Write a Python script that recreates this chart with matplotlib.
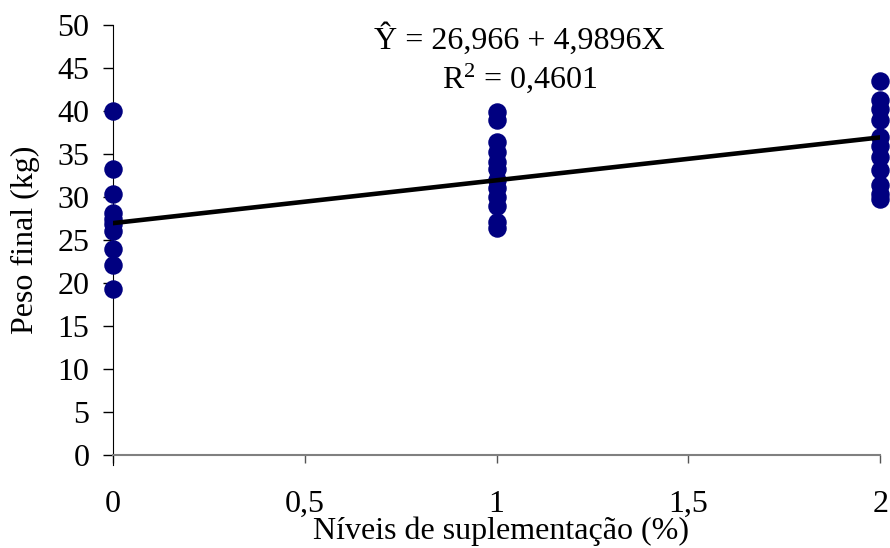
import numpy as np
import matplotlib.pyplot as plt

plt.rcParams['font.family'] = ['Liberation Serif', 'DejaVu Serif']
plt.rcParams['mathtext.fontset'] = 'custom'
plt.rcParams['mathtext.rm'] = 'Liberation Serif'

# observed final weights (kg) per supplementation level (%)
x0_vals = [40.0, 33.3, 30.4, 28.1, 27.4, 26.9, 26.0, 23.9, 22.1, 19.3]
x1_vals = [39.9, 39.0, 36.4, 35.3, 34.1, 33.3, 32.0, 31.0, 30.0, 29.0, 27.1, 26.4]
x2_vals = [43.5, 41.3, 40.2, 39.0, 37.0, 35.9, 34.7, 33.1, 31.4, 30.4, 29.8]
levels = [0, 1, 2]

intercept = 26.966
slope = 4.9896

FS = 23

fig = plt.figure(figsize=(8.9, 5.48), dpi=100)
ax = fig.add_axes([0.127, 0.170, 0.862, 0.784])

for lv, vals in zip(levels, [x0_vals, x1_vals, x2_vals]):
    ax.plot([lv] * len(vals), vals, 'o', color='#000080', markersize=12.3,
            clip_on=False, zorder=3)

xl = np.array([0, 2])
ax.plot(xl, intercept + slope * xl, color='black', lw=3.3, zorder=4)

ax.set_xlim(0, 2)
ax.set_ylim(0, 50)
ax.set_yticks(range(0, 51, 5))
ax.set_xticks([0, 0.5, 1, 1.5, 2])
ax.set_xticklabels(['0', '0,5', '1', '1,5', '2'])
ax.tick_params(axis='both', labelsize=FS, width=1, colors='black')
ax.tick_params(axis='x', pad=19, direction='out', length=6, color='#555555')
ax.tick_params(axis='y', pad=10, length=7)

for s in ['top', 'right']:
    ax.spines[s].set_visible(False)
ax.spines['left'].set_color('black')
ax.spines['left'].set_bounds(-1.2, 50)
ax.spines['bottom'].set_color('#808080')
ax.spines['bottom'].set_linewidth(1.5)

ax.set_ylabel('Peso final (kg)', fontsize=FS)
ax.yaxis.set_label_coords(-0.114, 0.5)
ax.yaxis.label.set_va('center')
ax.set_xlabel('Níveis de suplementação (%)', fontsize=FS, va='center')
ax.xaxis.set_label_coords(0.506, -0.177)

ax.text(1.06, 48.3, 'Ŷ = 26,966 + 4,9896X', fontsize=FS, ha='center', va='center')
ax.text(1.06, 43.8, r'R$\mathregular{^2}$ = 0,4601', fontsize=FS, ha='center', va='center')

fig.savefig('out.png', dpi=100)
